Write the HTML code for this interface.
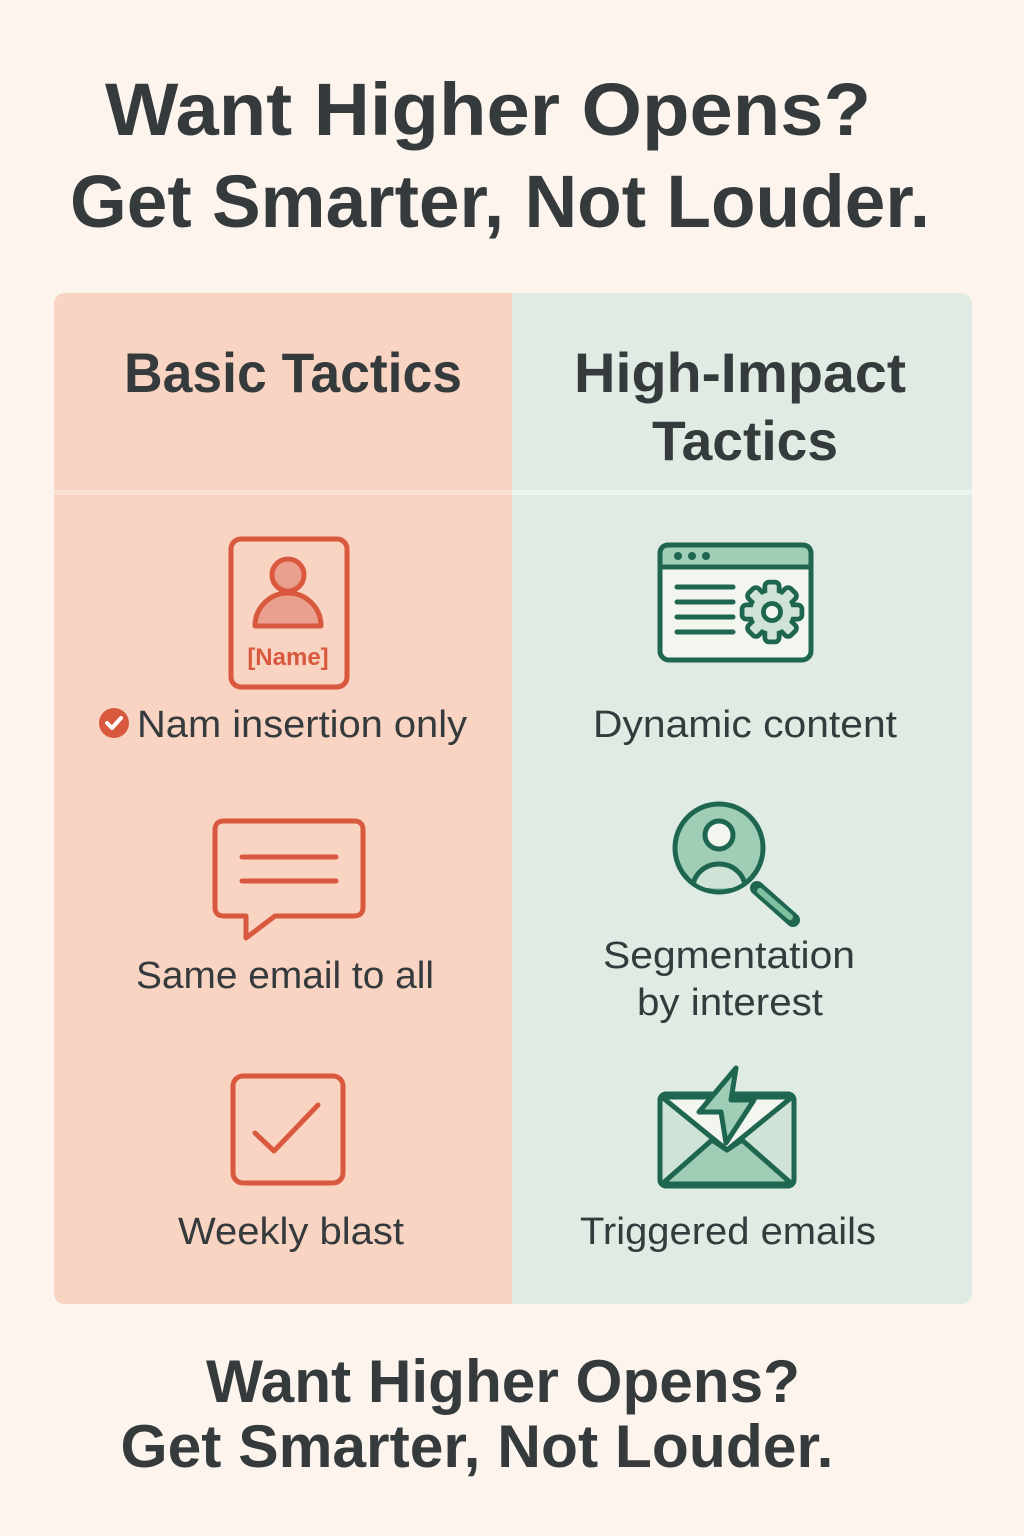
<!DOCTYPE html>
<html><head><meta charset="utf-8"><style>
html,body{margin:0;padding:0;background:#fcf4ed;}
svg{display:block}
text{font-family:"Liberation Sans",sans-serif;fill:#353a3c}
</style></head><body>
<svg width="1024" height="1536" viewBox="0 0 1024 1536" xmlns="http://www.w3.org/2000/svg">
<defs>
<g id="gearshape">
<circle cx="0" cy="0" r="21"/>
<rect x="-5" y="-29" width="10" height="14" rx="2"/>
<rect x="-5" y="-29" width="10" height="14" rx="2" transform="rotate(45)"/>
<rect x="-5" y="-29" width="10" height="14" rx="2" transform="rotate(90)"/>
<rect x="-5" y="-29" width="10" height="14" rx="2" transform="rotate(135)"/>
<rect x="-5" y="-29" width="10" height="14" rx="2" transform="rotate(180)"/>
<rect x="-5" y="-29" width="10" height="14" rx="2" transform="rotate(225)"/>
<rect x="-5" y="-29" width="10" height="14" rx="2" transform="rotate(270)"/>
<rect x="-5" y="-29" width="10" height="14" rx="2" transform="rotate(315)"/>
</g>
</defs>
<rect width="1024" height="1536" fill="#fcf4ed"/>
<text x="488" y="135" font-size="74" font-weight="bold" text-anchor="middle" textLength="766" lengthAdjust="spacingAndGlyphs">Want Higher Opens?</text>
<text x="500" y="227" font-size="74" font-weight="bold" text-anchor="middle" textLength="860" lengthAdjust="spacingAndGlyphs">Get Smarter, Not Louder.</text>

<path d="M66 293 H512 V1304 H66 Q54 1304 54 1292 V305 Q54 293 66 293Z" fill="#f9d4c2"/>
<path d="M512 293 H960 Q972 293 972 305 V1292 Q972 1304 960 1304 H512Z" fill="#e0ebe3"/>
<rect x="54" y="490" width="918" height="5" fill="#fbe4d8" opacity="0.8"/>
<rect x="512" y="490" width="460" height="5" fill="#edf3ef"/>

<text x="293" y="392" font-size="56" font-weight="bold" text-anchor="middle" textLength="338" lengthAdjust="spacingAndGlyphs">Basic Tactics</text>
<text x="740" y="392" font-size="56" font-weight="bold" text-anchor="middle" textLength="332" lengthAdjust="spacingAndGlyphs">High-Impact</text>
<text x="745" y="460" font-size="56" font-weight="bold" text-anchor="middle" textLength="186" lengthAdjust="spacingAndGlyphs">Tactics</text>

<!-- name card -->
<g stroke="#d9593f" stroke-width="5" fill="none">
<rect x="231" y="539" width="116" height="148" rx="10"/>
<circle cx="288" cy="575" r="16" fill="#eaa08e"/>
<path d="M255 626 A33 33 0 0 1 321 626 Z" fill="#eaa08e" stroke-linejoin="round"/>
</g>
<text x="288" y="665" font-size="24" font-weight="bold" text-anchor="middle" style="fill:#d9593f">[Name]</text>
<circle cx="114" cy="723" r="15" fill="#d9593f"/>
<path d="M107 723 l5 5 l9 -10" stroke="#fff" stroke-width="4" fill="none" stroke-linecap="round" stroke-linejoin="round"/>
<text x="302" y="737" font-size="38" text-anchor="middle" textLength="330" lengthAdjust="spacingAndGlyphs">Nam insertion only</text>

<!-- speech bubble -->
<g stroke="#d9593f" stroke-width="5" fill="none" stroke-linecap="round" stroke-linejoin="round">
<path d="M224 821 H354 Q363 821 363 830 V907 Q363 916 354 916 H275 L246 938 V916 H224 Q215 916 215 907 V830 Q215 821 224 821Z"/>
<line x1="242" y1="857" x2="336" y2="857"/>
<line x1="242" y1="881" x2="336" y2="881"/>
</g>
<text x="285" y="988" font-size="38" text-anchor="middle" textLength="298" lengthAdjust="spacingAndGlyphs">Same email to all</text>

<!-- checkbox -->
<g stroke="#d9593f" stroke-width="5" fill="none" stroke-linecap="round" stroke-linejoin="round">
<rect x="233" y="1076" width="110" height="107" rx="10"/>
<path d="M255 1133 L274 1151 L318 1105"/>
</g>
<text x="291" y="1244" font-size="38" text-anchor="middle" textLength="226" lengthAdjust="spacingAndGlyphs">Weekly blast</text>

<!-- browser gear -->
<g stroke="#1f6650" stroke-width="5" fill="none" stroke-linecap="round" stroke-linejoin="round">
<rect x="660" y="545" width="151" height="115" rx="9" fill="#f2f6ef"/>
<path d="M660 567 V554 Q660 545 669 545 H802 Q811 545 811 554 V567Z" fill="#9fcdb5"/>
<line x1="677" y1="587" x2="733" y2="587"/>
<line x1="677" y1="602" x2="733" y2="602"/>
<line x1="677" y1="617" x2="733" y2="617"/>
<line x1="677" y1="632" x2="733" y2="632"/>
</g>
<g transform="translate(772 612) scale(0.95)">
<use href="#gearshape" fill="#1f6650" stroke="#1f6650" stroke-width="10" stroke-linejoin="round"/>
<use href="#gearshape" fill="#cfe3d6" stroke="none"/>
<circle r="9" fill="#f2f6ef" stroke="#1f6650" stroke-width="5"/>
</g>
<g fill="#1f6650"><circle cx="678" cy="556" r="4"/><circle cx="692" cy="556" r="4"/><circle cx="706" cy="556" r="4"/></g>
<text x="745" y="737" font-size="38" text-anchor="middle" textLength="304" lengthAdjust="spacingAndGlyphs">Dynamic content</text>

<!-- magnifier -->
<g stroke="#1f6650" stroke-width="5" fill="none" stroke-linecap="round" stroke-linejoin="round">
<line x1="757" y1="888" x2="793" y2="920" stroke-width="14"/>
<line x1="760" y1="891" x2="790" y2="917" stroke-width="6" stroke="#7ebf9f"/>
<circle cx="719" cy="848" r="44" fill="#9fcdb5"/>
<clipPath id="cp"><circle cx="719" cy="848" r="42"/></clipPath>
<circle cx="719" cy="835" r="14" fill="#f2f6ef"/>
<path d="M693 888 A26 24 0 0 1 745 888" fill="#cfe3d6" clip-path="url(#cp)"/>
</g>
<text x="729" y="968" font-size="38" text-anchor="middle" textLength="252" lengthAdjust="spacingAndGlyphs">Segmentation</text>
<text x="730" y="1015" font-size="38" text-anchor="middle" textLength="186" lengthAdjust="spacingAndGlyphs">by interest</text>

<!-- envelope -->
<g stroke="#1f6650" stroke-width="5" fill="none" stroke-linejoin="round">
<rect x="660" y="1094" width="134" height="92" rx="6" fill="#cfe3d6"/>
<path d="M662 1184 L712 1140 L727 1150 L742 1140 L792 1184Z" fill="#9fcdb5"/>
<path d="M662 1097 L727 1150 L792 1097Z" fill="#f2f6ef"/>
<path d="M736 1068 L699 1112 L721 1112 L726 1143 L754 1100 L731 1100Z" fill="#9fcdb5"/>
</g>
<text x="728" y="1244" font-size="38" text-anchor="middle" textLength="296" lengthAdjust="spacingAndGlyphs">Triggered emails</text>

<text x="503" y="1402" font-size="60" font-weight="bold" text-anchor="middle" textLength="594" lengthAdjust="spacingAndGlyphs">Want Higher Opens?</text>
<text x="477" y="1467" font-size="60" font-weight="bold" text-anchor="middle" textLength="713" lengthAdjust="spacingAndGlyphs">Get Smarter, Not Louder.</text>
</svg>
</body></html>
